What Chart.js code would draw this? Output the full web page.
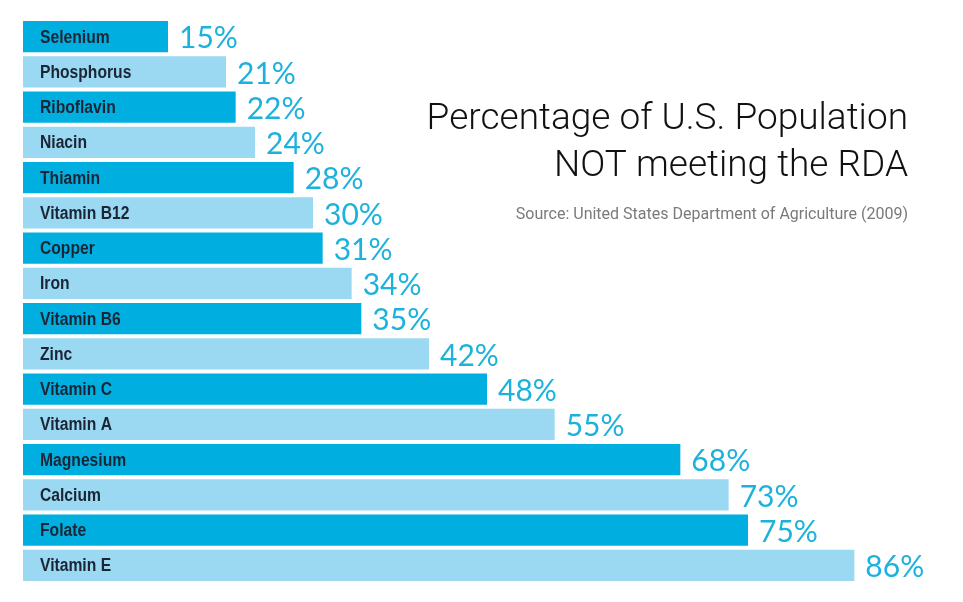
<!DOCTYPE html>
<html>
<head>
<meta charset="utf-8">
<script src="https://cdn.jsdelivr.net/npm/chart.js@4.4.0/dist/chart.umd.min.js"></script>
<style>
  html, body { margin: 0; padding: 0; background: #fff; }
  #wrap { width: 963px; height: 602px; position: relative; }
</style>
</head>
<body>
<div id="wrap"><canvas id="rdaChart"></canvas></div>
<script>
// nutrients, ordered top to bottom as in the picture
const nutrients = ['Selenium', 'Phosphorus', 'Riboflavin', 'Niacin', 'Thiamin', 'Vitamin B12', 'Copper', 'Iron',
    'Vitamin B6', 'Zinc', 'Vitamin C', 'Vitamin A', 'Magnesium', 'Calcium', 'Folate', 'Vitamin E'];
// percent of population not meeting the RDA
const percentNotMeeting = [15, 21, 22, 24, 28, 30, 31, 34, 35, 42, 48, 55, 68, 73, 75, 86];

const titleLines = ['Percentage of U.S. Population', 'NOT meeting the RDA'];
const sourceText = 'Source: United States Department of Agriculture (2009)';

const darkBlue = '#00afdf';
const lightBlue = '#9bd8f1';
const valueColor = '#1db2dc';

// alternate dark / light bars
const barColors = nutrients.map(function(n, i) { return i % 2 === 0 ? darkBlue : lightBlue; });

// draws the names inside the bars, the values after them, and the title block
const labelPlugin = {
    id: 'labelPlugin',
    afterDatasetsDraw: function(chart) {
        const ctx = chart.ctx;
        const meta = chart.getDatasetMeta(0);
        const area = chart.chartArea;
        ctx.save();
        ctx.textBaseline = 'middle';
        meta.data.forEach(function(bar, i) {
            // names are set in a condensed bold face, squeeze horizontally
            ctx.save();
            ctx.translate(area.left + 17, bar.y + 1);
            ctx.scale(0.87, 1);
            ctx.fillStyle = '#1b2535';
            ctx.font = 'bold 18px "Liberation Sans", sans-serif';
            ctx.textAlign = 'left';
            ctx.fillText(nutrients[i], 0, 0);
            ctx.restore();

            ctx.fillStyle = valueColor;
            ctx.font = '30px Lato, "Open Sans", sans-serif';
            ctx.fillText(percentNotMeeting[i] + '%', bar.x + 11, bar.y + 2);
        });

        ctx.textAlign = 'right';
        ctx.textBaseline = 'alphabetic';
        ctx.fillStyle = '#111';
        ctx.font = '300 37px Roboto, "Liberation Sans", sans-serif';
        ctx.fillText(titleLines[0], 908, 129);
        ctx.fillText(titleLines[1], 908, 176);
        ctx.fillStyle = '#7a7a7a';
        ctx.font = '16px Roboto, "Liberation Sans", sans-serif';
        ctx.fillText(sourceText, 908, 219);
        ctx.restore();
    }
};

const ctx = document.getElementById('rdaChart').getContext('2d');
new Chart(ctx, {
    type: 'bar',
    data: {
        labels: nutrients,
        datasets: [{
            data: percentNotMeeting,
            backgroundColor: barColors,
            borderWidth: 0,
            categoryPercentage: 1,
            barPercentage: 0.885
        }]
    },
    options: {
        indexAxis: 'y',
        responsive: true,
        maintainAspectRatio: false,
        animation: false,
        layout: {
            padding: { left: 23, right: 12, top: 19, bottom: 19 }
        },
        plugins: {
            legend: { display: false },
            title: { display: false },
            tooltip: { enabled: false }
        },
        scales: {
            x: {
                display: false,
                min: 0,
                max: 96
            },
            y: {
                display: false
            }
        }
    },
    plugins: [labelPlugin]
});
</script>
</body>
</html>
